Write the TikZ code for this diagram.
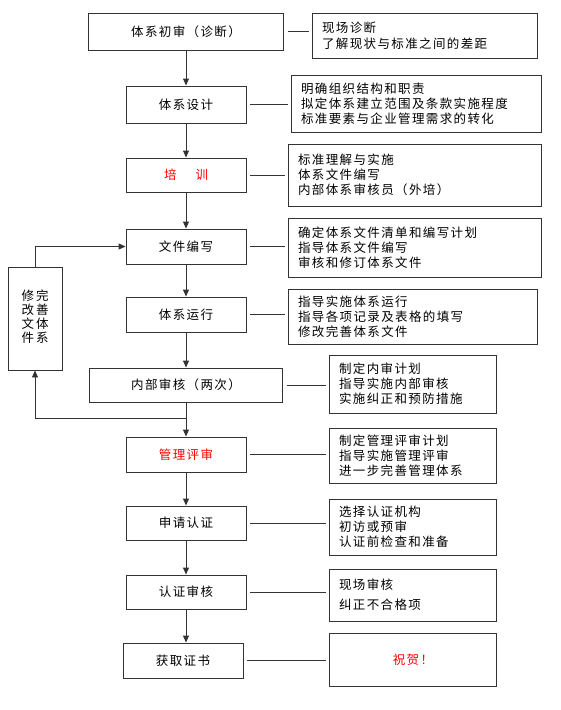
\documentclass[tikz,border=0pt]{standalone}
\usepackage{fontspec}
\usetikzlibrary{arrows.meta,positioning,calc}
\newfontfamily\cjk[LetterSpace=11]{Noto Sans CJK SC}
\newcommand{\zhfont}{\cjk\fontsize{12.5}{15}\selectfont}

\begin{document}
\begin{tikzpicture}[x=1pt, y=-1pt,
        stage/.style={draw=black!80, line width=0.9pt, rectangle, minimum width=120pt,
                      minimum height=35pt, align=center, font=\zhfont},
        note/.style={draw=black!80, line width=0.9pt, rectangle, inner xsep=10pt,
                     text width=#1, align=left, font=\zhfont},
        flow/.style={draw=black!80, line width=0.9pt, -{Triangle[length=7pt,width=6pt]}},
        link/.style={draw=black!80, line width=0.9pt, shorten <=4pt, shorten >=3pt}
    ]
        \useasboundingbox (0,0) rectangle (560,710);

        % main steps
        \node[stage, minimum width=195pt, minimum height=37pt] (init) at (186,31.5) {体系初审（诊断）};
        \node[stage, minimum height=37pt] (design) at (186,104.5) {体系设计};
        \node[stage, minimum height=34pt, text=red] (train) at (186,175) {培\hspace{19pt}训};
        \node[stage] (docs) at (186,246.5) {文件编写};
        \node[stage] (run) at (186,314.5) {体系运行};
        \node[stage, minimum width=193pt, minimum height=34pt] (intaudit) at (186,385) {内部审核（两次）};
        \node[stage, text=red] (review) at (186,454.5) {管理评审};
        \node[stage, minimum height=34pt] (apply) at (186,523) {申请认证};
        \node[stage, minimum height=34pt] (certaudit) at (186,592) {认证审核};
        \node[stage] (cert) at (183,660.5) {获取证书};

        % notes
        \node[note=205pt, minimum height=45pt] (n1) at (424.5,35.5) {现场诊断\\[1pt]了解现状与标准之间的差距};
        \node[note=230pt, minimum height=57pt] (n2) at (416,103.5) {明确组织结构和职责\\拟定体系建立范围及条款实施程度\\标准要素与企业管理需求的转化};
        \node[note=233pt, minimum height=62pt] (n3) at (414.5,175) {标准理解与实施\\体系文件编写\\内部体系审核员（外培）};
        \node[note=233pt, minimum height=59pt] (n4) at (414.5,247.5) {确定体系文件清单和编写计划\\指导体系文件编写\\审核和修订体系文件};
        \node[note=229pt, minimum height=55pt] (n5) at (412.5,316.5) {指导实施体系运行\\指导各项记录及表格的填写\\修改完善体系文件};
        \node[note=147pt, minimum height=58pt] (n6) at (412.5,384) {制定内审计划\\指导实施内部审核\\实施纠正和预防措施};
        \node[note=147pt, minimum height=55pt] (n7) at (412.5,455.5) {制定管理评审计划\\指导实施管理评审\\进一步完善管理体系};
        \node[note=147pt, minimum height=56pt] (n8) at (412.5,527) {选择认证机构\\初访或预审\\认证前检查和准备};
        \node[note=147pt, minimum height=52pt] (n9) at (412.5,595) {现场审核\\[5pt]纠正不合格项};
        \node[note=147pt, minimum height=53pt, align=center, text=red] (n10) at (413,659.5) {祝贺！};

        % feedback
        \node[draw=black!80, line width=0.9pt, minimum width=54pt, minimum height=103pt,
              inner sep=0pt, font=\zhfont] (fix) at (35,318.5)
            {\begin{tabular}{@{}c@{\hspace{2pt}}c@{}}修&完\\[-1pt]改&善\\[-1pt]文&体\\[-1pt]件&系\end{tabular}};

        \draw[flow] (init) -- (design);
        \draw[flow] (design) -- (train);
        \draw[flow] (train) -- (docs);
        \draw[flow] (docs) -- (run);
        \draw[flow] (run) -- (intaudit);
        \draw[flow] (intaudit) -- (review);
        \draw[flow] (review) -- (apply);
        \draw[flow] (apply) -- (certaudit);
        \draw[flow] (certaudit.south) -- (certaudit.south |- cert.north);

        \draw[flow] ($(intaudit.south)!0.47!(review.north)$) -| (fix.south);
        \draw[flow] (fix.north) |- (docs.west);

        \draw[link] (init.east) -- (init.east -| n1.west);
        \draw[link] (design.east) -- (design.east -| n2.west);
        \draw[link] (train.east) -- (train.east -| n3.west);
        \draw[link] (docs.east) -- (docs.east -| n4.west);
        \draw[link] (run.east) -- (run.east -| n5.west);
        \draw[link] (intaudit.east) -- (intaudit.east -| n6.west);
        \draw[link] (review.east) -- (review.east -| n7.west);
        \draw[link] (apply.east) -- (apply.east -| n8.west);
        \draw[link] (certaudit.east) -- (certaudit.east -| n9.west);
        \draw[link] (cert.east) -- (cert.east -| n10.west);
    \end{tikzpicture}
\end{document}
